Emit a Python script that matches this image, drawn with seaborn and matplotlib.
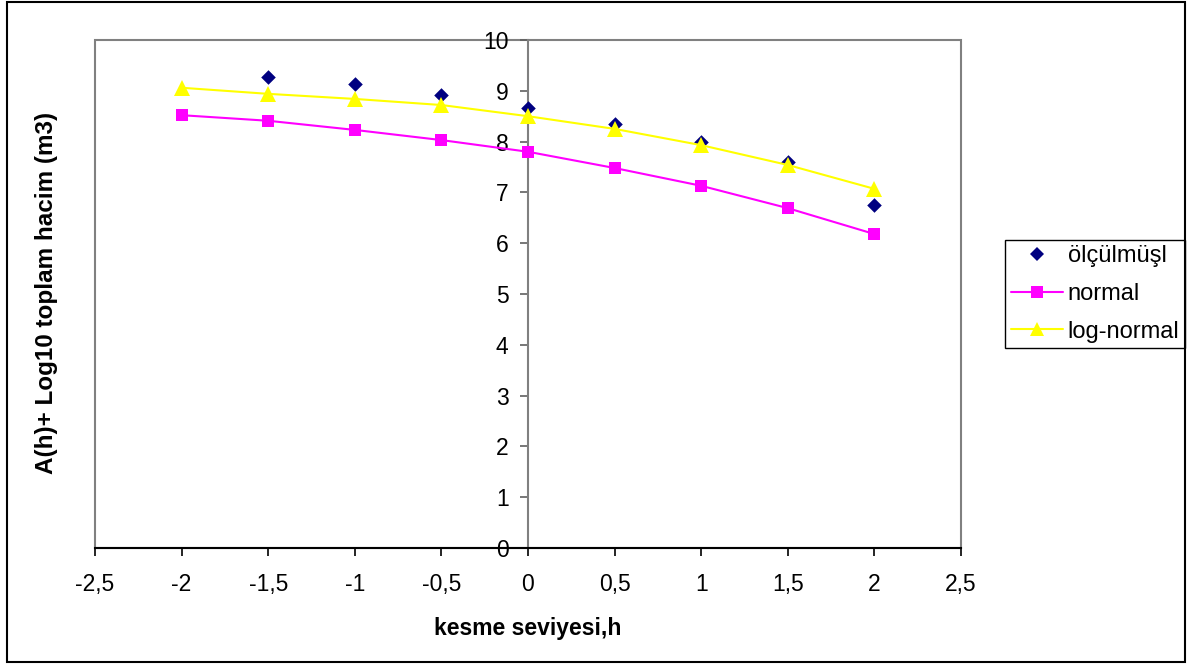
import matplotlib
matplotlib.use("Agg")
import matplotlib.pyplot as plt
import seaborn as sns
import pandas as pd
from matplotlib.patches import Rectangle
from matplotlib.lines import Line2D

# ---- data ----
h_levels = [-2, -1.5, -1, -0.5, 0, 0.5, 1, 1.5, 2]
normal_vals = [8.52, 8.41, 8.23, 8.03, 7.80, 7.48, 7.13, 6.69, 6.18]
lognormal_vals = [9.06, 8.94, 8.84, 8.72, 8.50, 8.25, 7.93, 7.54, 7.07]
measured_h = [-1.5, -1, -0.5, 0, 0.5, 1, 1.5, 2]
measured_vals = [9.28, 9.13, 8.92, 8.66, 8.34, 8.00, 7.60, 6.75]
x_ticks = [-2.5, -2, -1.5, -1, -0.5, 0, 0.5, 1, 1.5, 2, 2.5]
x_tick_labels = ["-2,5", "-2", "-1,5", "-1", "-0,5", "0", "0,5", "1", "1,5", "2", "2,5"]
y_ticks = list(range(0, 11))
series_names = ["ölçülmüşl", "normal", "log-normal"]
x_label = "kesme seviyesi,h"
y_label = "A(h)+ Log10 toplam hacim (m3)"

sns.set_theme(style="white")
plt.rcParams['font.family'] = ['Liberation Sans', 'DejaVu Sans']

fig = plt.figure(figsize=(11.92, 6.71), dpi=100)
ax = fig.add_axes([95/1192, 1-548/671, (961-95)/1192, (548-40)/671])

df_n = pd.DataFrame({"h": h_levels, "v": normal_vals})
df_l = pd.DataFrame({"h": h_levels, "v": lognormal_vals})
df_m = pd.DataFrame({"h": measured_h, "v": measured_vals})

sns.lineplot(data=df_n, x="h", y="v", ax=ax, color="#FF00FF", marker="s",
             markersize=9, markeredgewidth=0, linewidth=1.5, zorder=3)
sns.lineplot(data=df_l, x="h", y="v", ax=ax, color="#FFFF00", marker="^",
             markersize=11, markeredgewidth=0, linewidth=1.5, zorder=3)
sns.scatterplot(data=df_m, x="h", y="v", ax=ax, color="#000080", marker="D",
                s=55, linewidth=0, zorder=2)

for s in ["top", "right"]:
    ax.spines[s].set_visible(False)
ax.spines["left"].set_position(("data", 0))
ax.spines["left"].set_color("#808080")
ax.spines["left"].set_linewidth(1.5)
ax.spines["bottom"].set_color("black")
ax.spines["bottom"].set_linewidth(1.5)
ax.spines["left"].set_zorder(1)

ax.set_xlim(-2.5, 2.5)
ax.set_ylim(0, 10)
ax.set_xticks(x_ticks)
ax.set_xticklabels(x_tick_labels)
ax.set_yticks(y_ticks)
ax.set_yticklabels([str(t) for t in y_ticks])

# plot-area border (gray)
ax.add_patch(Rectangle((0, 0), 1, 1, transform=ax.transAxes, fill=False,
                       edgecolor="#808080", linewidth=1.5, zorder=0, clip_on=False))

ax.tick_params(axis="x", which="major", direction="out", length=6,
               width=1.2, color="black", pad=12, bottom=True, labelsize=16.5,
               labelcolor="black")
ax.tick_params(axis="y", which="major", direction="out", length=6,
               width=1.2, color="#606060", pad=8, left=True, labelsize=16.5,
               labelcolor="black")

ax.set_xlabel(x_label, fontsize=16.5, fontweight="bold", labelpad=15, color="black")
ax.set_ylabel("")
fig.text(47/1192, 1-293/671, y_label, rotation=90, fontsize=17.5, fontweight="bold",
         ha="center", va="center", color="black")
ax.grid(False)

# legend
handles = [
    Line2D([], [], linestyle="none", marker="D", color="#000080", markersize=7, markeredgewidth=0),
    Line2D([], [], color="#FF00FF", marker="s", markersize=8, linewidth=1.5, markeredgewidth=0),
    Line2D([], [], color="#FFFF00", marker="^", markersize=10, linewidth=1.5, markeredgewidth=0),
]
leg = ax.legend(handles, series_names, loc="center left",
                bbox_to_anchor=(1005/1192, 1-294/671), bbox_transform=fig.transFigure,
                prop={"size": 17}, frameon=True, fancybox=False, edgecolor="black",
                framealpha=1, handlelength=2.2, handletextpad=0.2,
                borderpad=0.25, labelspacing=0.66, borderaxespad=0)
leg.get_frame().set_linewidth(1.0)
for t in leg.get_texts():
    t.set_color("black")

# outer chart border
fig.add_artist(Rectangle((7/1192, 1-662/671), (1185-7)/1192, (662-2)/671,
                         transform=fig.transFigure, fill=False, edgecolor="black",
                         linewidth=1.5))

fig.savefig("out.png", dpi=100, facecolor="white")
